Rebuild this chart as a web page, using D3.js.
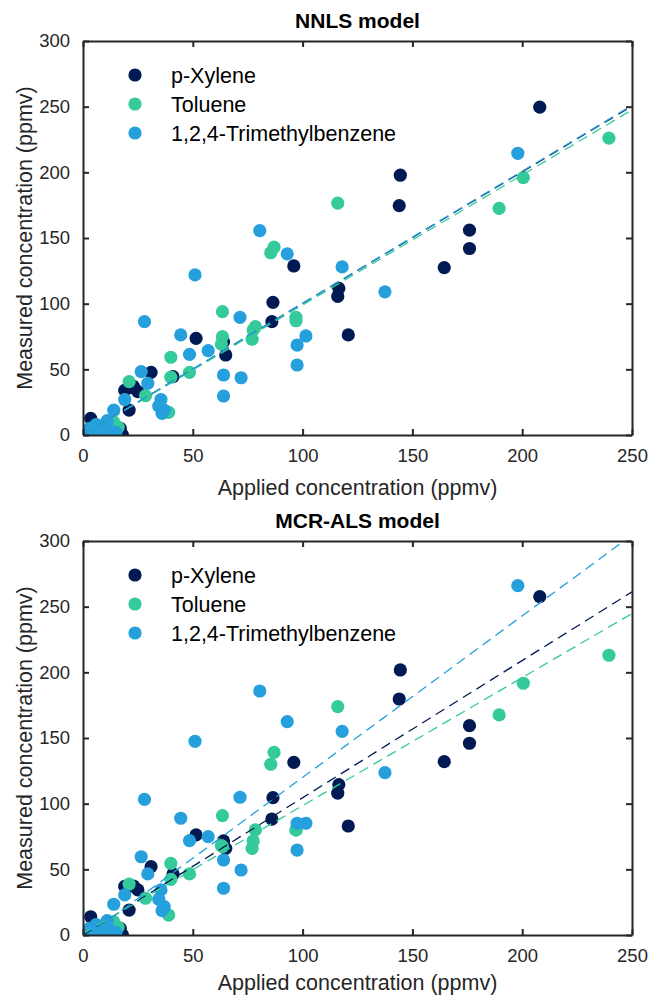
<!DOCTYPE html>
<html><head><meta charset="utf-8">
<script src="https://cdn.jsdelivr.net/npm/d3@7"></script>
<style>body{margin:0;background:#fff;} svg{display:block;font-family:"Liberation Sans",Arial,Helvetica,sans-serif;}</style>
</head><body><svg id="chart" width="649" height="997"></svg>
<script>
const seriesNames = ["p-Xylene", "Toluene", "1,2,4-Trimethylbenzene"];
const seriesColors = ["#021a53", "#35ca9b", "#25a0dc"];
const xTicks = [0, 50, 100, 150, 200, 250];
const yTicks = [0, 50, 100, 150, 200, 250, 300];
const panelTitles = ["NNLS model", "MCR-ALS model"];
const xLabel = "Applied concentration (ppmv)";
const yLabel = "Measured concentration (ppmv)";

// p-Xylene
const xylApplied = [208, 176, 176, 164.5, 144.5, 144, 120.8, 116.5, 116, 96, 86.5, 86, 65, 64, 51.5, 41, 31, 25, 23, 21, 19, 21, 3.5, 0, 2, 5, 8, 10, 12, 15, 18, 17];
const xylNNLS    = [249.6, 156, 142, 127.5, 197.8, 174.6, 76.2, 111.7, 105.5, 128.7, 101, 86.3, 60.9, 71, 73.6, 44.4, 47.7, 33, 37, 36, 34, 19, 12.7, 0, 2, 3, 5, 1, 8, 3, 0, 5];
const xylMCR     = [257.7, 159.4, 146, 132, 201.8, 179.7, 83, 114.5, 108, 131.5, 104.6, 88.3, 66, 71.6, 76.2, 46.5, 52, 34.3, 37.3, 37.3, 37, 19, 13.9, 0, 2, 3, 5, 1, 8, 3, 0, 5];
// Toluene
const tolApplied = [239.5, 200.5, 189.5, 116, 87, 85.5, 97, 97, 78.5, 77.5, 77, 63.5, 63.5, 63, 48.5, 40, 40, 39, 28.5, 21, 1, 4, 7, 10, 12, 14, 16, 13];
const tolNNLS    = [226, 196, 172.6, 176.6, 143, 138.8, 89.6, 87, 82.5, 80, 72.9, 93.9, 74.9, 69.3, 47.7, 59.2, 44, 17.3, 30, 40.6, 1, 2, 4, 8, 3, 10, 6, 0];
const tolMCR     = [213, 191.7, 167.6, 173.9, 139, 130, 80, 80, 80, 71.6, 66, 90.9, 67.3, 68, 46.5, 54.6, 42.4, 15.2, 28, 38.8, 1, 2, 4, 8, 3, 10, 6, 0];
// 1,2,4-Trimethylbenzene
const tmbApplied = [198, 137.5, 118, 93, 80.5, 51, 101.5, 97.5, 97.5, 71.5, 72, 64, 64, 57, 48.5, 44.5, 28, 26.5, 29.5, 35.5, 34.5, 37, 36, 19, 14, 0, 2, 3, 5, 6, 8, 10, 12, 15, 11];
const tmbNNLS    = [214.5, 109, 128, 137.9, 155.6, 121.9, 75.4, 68.5, 53.3, 89.6, 43.6, 45.7, 29.7, 64.2, 61.4, 76.2, 86.3, 48.2, 39.4, 27, 22, 19, 16.5, 27, 19, 2, 0, 5, 1, 8, 3, 6, 4, 2, 11];
const tmbMCR     = [266, 123.6, 155, 162.5, 185.8, 147.5, 85.1, 85.1, 64.7, 104.9, 49.5, 57.1, 35.6, 74.9, 71.8, 88.9, 103.3, 59.6, 46.5, 34.3, 27.2, 21.6, 18.5, 30.5, 23.4, 2, 0, 5, 1, 8, 3, 6, 4, 2, 11];

// regression fits [slope, intercept] per series
const fitSlopeNNLS = [1.002, 0.99, 1.004];
const fitInterNNLS = [0, 0, 0];
const fitSlopeMCR  = [1.045, 0.975, 1.23];
const fitInterMCR  = [0, 1, -3];

const panels = [
  {top: 41, xlabOff: 60, title: panelTitles[0], xs: [xylApplied, tolApplied, tmbApplied], ys: [xylNNLS, tolNNLS, tmbNNLS], slopes: fitSlopeNNLS, inters: fitInterNNLS},
  {top: 541, xlabOff: 55, title: panelTitles[1], xs: [xylApplied, tolApplied, tmbApplied], ys: [xylMCR, tolMCR, tmbMCR], slopes: fitSlopeMCR, inters: fitInterMCR}
];

const svg = d3.select("#chart");
const L = 83, R = 632, H = 394;
const axisColor = "#262626";

panels.forEach((p, pi) => {
  const x = d3.scaleLinear().domain([0, 250]).range([L, R]);
  const y = d3.scaleLinear().domain([0, 300]).range([p.top + H, p.top]);
  const g = svg.append("g");
  const clipId = "clip" + pi;
  svg.append("clipPath").attr("id", clipId).append("rect")
    .attr("x", L).attr("y", p.top).attr("width", R - L).attr("height", H);

  // points
  const pg = g.append("g").attr("clip-path", `url(#${clipId})`);
  [0, 1, 2].forEach(si => {
    const pts = p.xs[si].map((v, i) => [v, p.ys[si][i]]);
    pg.selectAll(null).data(pts).enter().append("circle")
      .attr("cx", d => x(d[0])).attr("cy", d => y(d[1])).attr("r", 6.6)
      .attr("fill", seriesColors[si]);
  });
  // fit lines
  [0, 1, 2].forEach(si => {
    const line = d3.line().x(d => x(d)).y(d => y(p.slopes[si] * d + p.inters[si]));
    pg.append("path").datum([0, 250]).attr("d", line)
      .attr("fill", "none").attr("stroke", seriesColors[si]).attr("stroke-width", 1.3)
      .attr("stroke-dasharray", "10,6");
  });

  // axes (MATLAB box style, inward ticks)
  const ax = g.append("g").attr("transform", `translate(0,${p.top + H})`)
    .call(d3.axisBottom(x).tickValues(xTicks).tickSizeInner(-6).tickSizeOuter(0).tickPadding(14));
  const axT = g.append("g").attr("transform", `translate(0,${p.top})`)
    .call(d3.axisTop(x).tickValues(xTicks).tickSizeInner(-6).tickSizeOuter(0).tickFormat(""));
  const ay = g.append("g").attr("transform", `translate(${L},0)`)
    .call(d3.axisLeft(y).tickValues(yTicks).tickSizeInner(-6).tickSizeOuter(0).tickPadding(13));
  const ayR = g.append("g").attr("transform", `translate(${R},0)`)
    .call(d3.axisRight(y).tickValues(yTicks).tickSizeInner(-6).tickSizeOuter(0).tickFormat(""));
  [ax, axT, ay, ayR].forEach(a => {
    a.select(".domain").attr("stroke", axisColor).attr("stroke-width", 2);
    a.selectAll(".tick line").attr("stroke", axisColor).attr("stroke-width", 2);
    a.selectAll(".tick text").attr("fill", "#262626").style("font-size", "18.5px")
      .style("font-family", "'Liberation Sans', Arial, sans-serif");
  });

  // title
  g.append("text").attr("x", (L + R) / 2).attr("y", p.top - 13).attr("text-anchor", "middle")
    .style("font-size", "21px").style("font-weight", "bold").attr("fill", "#000").text(p.title);
  // x label
  g.append("text").attr("x", (L + R) / 2).attr("y", p.top + H + p.xlabOff).attr("text-anchor", "middle")
    .style("font-size", "21.5px").attr("fill", "#262626").text(xLabel);
  // y label
  g.append("text").attr("transform", `translate(32,${p.top + H / 2}) rotate(-90)`).attr("text-anchor", "middle")
    .style("font-size", "21.5px").attr("fill", "#262626").text(yLabel);

  // legend
  const lg = g.append("g");
  seriesNames.forEach((nm, si) => {
    const ly = p.top + 34 + si * 29;
    lg.append("circle").attr("cx", 135).attr("cy", ly).attr("r", 6.6).attr("fill", seriesColors[si]);
    lg.append("text").attr("x", 171).attr("y", ly + 7.5).style("font-size", "21.5px").attr("fill", "#000").text(nm);
  });
});
</script></body></html>
